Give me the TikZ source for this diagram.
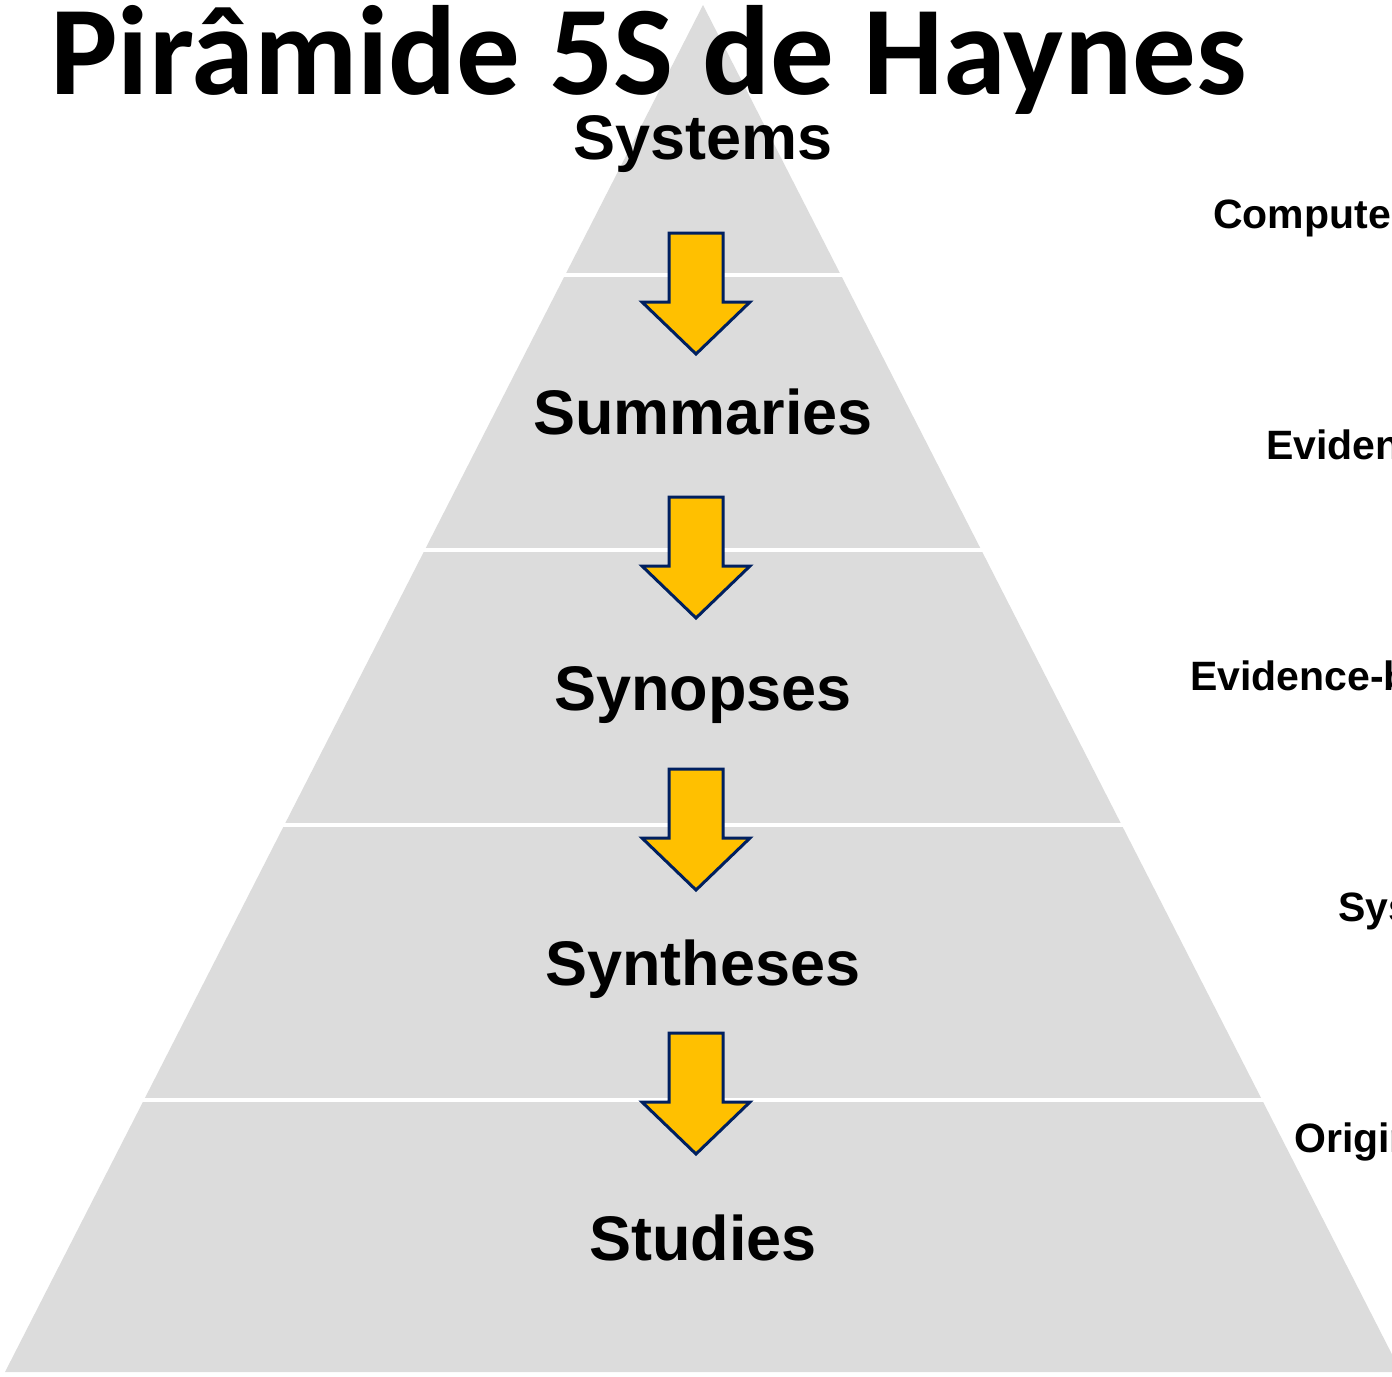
\documentclass[tikz,border=0pt]{standalone}
\usepackage{fontspec}
\setmainfont{Liberation Sans}
\newfontfamily\titlefont{Carlito}

\definecolor{bandgray}{RGB}{220,220,220}
\definecolor{arrowfill}{RGB}{255,192,0}
\definecolor{arrowline}{RGB}{0,32,96}

\tikzset{
  level/.style={font=\fontsize{63}{63}\selectfont\bfseries, anchor=base, inner sep=0pt},
  side/.style={font=\fontsize{41}{41}\selectfont\bfseries, anchor=base west, inner sep=0pt},
  blockarrow/.style={fill=arrowfill, draw=arrowline, line width=3pt, line join=miter}
}

\begin{document}
\begin{tikzpicture}[x=1pt,y=-1pt]
    \useasboundingbox (0,0) rectangle (1392,1376);
    \clip (0,0) rectangle (1392,1376);
    % pyramid and its bands
    \fill [bandgray] (703,5) -- (5,1372) -- (1401,1372) -- cycle;
    \foreach \y in {275,550,825,1100}
        \draw [white, line width=4pt] (0,\y) -- (1392,\y);
    % arrows
    \foreach \t in {233,497,769,1033}
        \filldraw [blockarrow] (669,\t) -- (723,\t) -- (723,{\t+69}) -- (750,{\t+69})
            -- (696,{\t+121}) -- (642,{\t+69}) -- (669,{\t+69}) -- cycle;
    % title
    \node[anchor=base west, inner sep=0pt, font=\titlefont\bfseries\fontsize{127}{127}\selectfont] (title) at (50,94) {Pirâmide 5S de Haynes};
    % levels
    \node[level] (systems) at (703,159) {Systems};
    \node[level] (summaries) at (703,434) {Summaries};
    \node[level] (synopses) at (703,710) {Synopses};
    \node[level] (syntheses) at (703,985) {Syntheses};
    \node[level] (studies) at (703,1260) {Studies};
    % examples on the right
    \node[side] (ex1) at (1213,228) {Computerized decision support systems};
    \node[side] (ex2) at (1266,459) {Evidence-based textbooks};
    \node[side] (ex3) at (1190,690) {Evidence-based journal abstracts};
    \node[side] (ex4) at (1338,921) {Systematic reviews};
    \node[side] (ex5) at (1294,1152) {Original articles};
\end{tikzpicture}
\end{document}
